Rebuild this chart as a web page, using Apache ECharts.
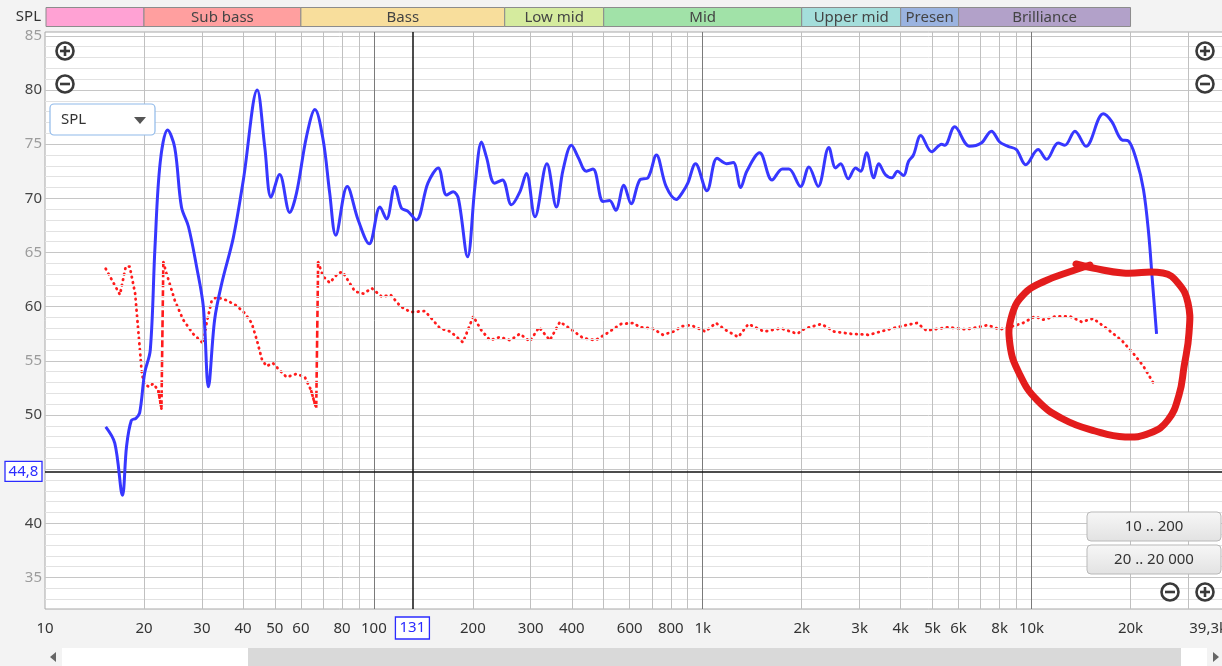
<!DOCTYPE html>
<html>
<head>
<meta charset="utf-8">
<script src="https://cdn.jsdelivr.net/npm/echarts@6/dist/echarts.min.js"></script>
<style>
html,body{margin:0;padding:0;background:#f3f3f3;}
#c{width:1222px;height:666px;}
</style>
</head>
<body>
<div id="c"></div>
<script>
// ---------- data ----------
const blueFreq = [15.3,16.3,17.2,17.7,18.3,18.9,19.4,20.1,20.9,21.6,22.4,23.6,24.8,26.0,27.3,28.9,30.3,31.4,32.8,34.5,37.4,40.1,44.2,46.6,48.7,51.7,55.5,58.2,62.4,66.2,70.1,73.4,76.6,83.0,89.6,96.8,104.4,109.3,115.8,121.3,127,134.6,146,156.9,166.4,174.3,180.7,192.8,203,212.6,220,233,246,262,278,291,309,336,359,376,399,418,443,464,498,521,544,576,606,644,682,723,774,831,870,901,951,1030,1106,1181,1239,1305,1362,1490,1625,1747,1829,1984,2104,2244,2418,2537,2627,2771,2917,3021,3150,3313,3429,3590,3760,3914,4081,4225,4374,4606,4970,5330,5450,5840,6480,7030,7550,8000,8480,8990,9600,10470,11110,12050,12630,13550,14640,16520,17520,18790,19690,20860,21900,22700,23250,24000];
const blueDb = [48.9,47.4,42.6,47.1,49.5,49.7,50.2,53.9,56,65.5,73.3,76.3,74.7,69.2,67.4,63.7,60,52.6,58.8,62.2,66.4,71.7,80,74.7,70.1,72.2,68.7,70.5,75.7,78.2,75.4,70.5,66.6,71.1,68,65.8,69.2,68.1,71.1,69.1,68.8,68,71.4,72.8,70.3,70.6,70,64.6,71.1,75.2,73.8,71.4,71.7,69.4,70.6,72.3,68.3,73.2,69.2,72.6,74.9,73.8,72.5,72.7,69.7,69.8,68.9,71.2,69.5,71.7,71.9,74,71.1,69.9,70.6,71.4,73.2,70.7,73.7,73.2,73.3,71,72.5,74.2,71.7,72.7,72.7,71.1,72.9,71.1,74.7,72.8,73.2,71.8,72.8,72.5,74.2,71.9,73.2,72.2,71.9,72.5,72.1,73.4,74,75.8,74.3,75,74.9,76.6,74.8,75.1,76.2,75.2,74.8,74.5,73.1,74.5,73.6,75.1,74.9,76.2,74.8,77.8,77.1,75.4,75.3,73.5,70.8,66.8,62.8,57.5];

const redFreq = [15.3,16.9,17.6,18.1,18.8,19.4,19.7,20.1,20.8,21.3,22.1,22.6,22.9,23.4,24.8,26.3,28.2,30.3,31,32.1,33.2,35.6,38.2,40.5,42.5,44.1,45.7,47.2,49.3,51.8,54.3,58.2,61.7,64.4,66.8,67.7,70.1,73.4,77.9,80.4,87.6,92.9,98.6,105.9,112.4,120.7,129.6,143,159,171,186.7,200.5,212.6,225.6,242,260,278,298,318,343,368,394,433,472,509,564,616,644,703,757,815,867,922,1019,1097,1181,1283,1377,1540,1729,1939,2050,2296,2510,2820,3200,3470,3780,4160,4490,4790,5580,6340,7370,8000,8600,9420,10240,10850,11800,13090,14200,15400,16910,18790,20380,21900,23530];
const redDb = [63.5,61.1,63.7,63.7,61.2,56.3,53.8,52.8,52.6,52.9,52.3,50.6,64.1,63.1,60.6,58.8,57.5,56.6,58.5,60.5,60.9,60.6,60.1,59.4,58.5,56.9,55.1,54.5,54.8,54.1,53.5,53.8,53.5,52.3,50.6,64.1,62.8,62.2,63.1,63.2,61.4,61.2,61.7,60.9,61.1,60,59.5,59.6,58,57.7,56.7,59.1,57.8,56.9,57.2,56.9,57.5,56.8,58.1,56.9,58.6,58,57.1,56.9,57.5,58.4,58.5,58.1,58,57.4,57.7,58.2,58.3,57.7,58.5,57.8,57.2,58.4,57.7,58,57.5,58,58.4,57.7,57.5,57.4,57.7,58,58.3,58.5,57.8,58.1,57.9,58.3,57.9,58.1,58.5,59.1,58.8,59.1,59.1,58.6,58.9,58,56.9,55.7,54.5,52.9];
const redJumpAfter = [11, 34]; // index after which the red trace jumps (drawn dashed)

const xTickLabels = [10,20,30,40,50,60,80,100,200,300,400,600,800,1000,2000,3000,4000,5000,6000,8000,10000,20000,39300];
const yTickLabels = [35,40,50,55,60,65,70,75,80,85];

const bandEdges = [10,20,60,250,500,2000,4000,6000,20000];
const bandNames = ['', 'Sub bass', 'Bass', 'Low mid', 'Mid', 'Upper mid', 'Presen', 'Brilliance'];
const bandColors = ['#ffa2d4','#ff9f9f','#f8de9c','#d5eb9e','#a1e2a8','#a4dedb','#9ab3e0','#b2a1c9'];

const cursorFreq = 131;
const cursorDb = 44.8;

// ---------- build ----------
const majorV = [100,1000,10000];
const minorV = [];
[10,100,1000,10000].forEach(d => { for (let k = 1; k <= 9; k++) { const v = d*k; if (v > 10 && v < 39300 && majorV.indexOf(v) < 0) minorV.push(v); } });
const hMinor = [], hMajor = [];
for (let v = 33; v <= 85; v++) { (v % 5 === 0 ? hMajor : hMinor).push(v); }

const blueData = blueFreq.map((f,i) => [f, blueDb[i]]);
const redDotted = [];
const redDashed = [];
redFreq.forEach((f,i) => {
  redDotted.push([f, redDb[i]]);
  if (redJumpAfter.indexOf(i) >= 0) {
    redDotted.push([f, null]);
    redDashed.push([redFreq[i-1], redDb[i-1]], [f, redDb[i]], [redFreq[i+1], redDb[i+1]], [redFreq[i+1], null]);
  }
});

const gridLine = (arr, axis, color, w) => arr.map(v => ({ [axis]: v, lineStyle: { color: color, width: w, type: 'solid' } }));

const chart = echarts.init(document.getElementById('c'), null, { renderer: 'canvas' });
const FONT = '"Noto Sans", "DejaVu Sans", sans-serif';

chart.setOption({
  animation: false,
  backgroundColor: '#f3f3f3',
  grid: { left: 45, width: 1182, top: 32, bottom: 57, outerBoundsMode: 'none', containLabel: false, show: true, backgroundColor: '#ffffff', borderColor: '#a8a8a8', borderWidth: 1 },
  xAxis: {
    type: 'log', logBase: 10, min: 10, max: 39300,
    axisLine: { show: false }, axisTick: { show: false }, splitLine: { show: false }, minorSplitLine: { show: false },
    axisLabel: {
      customValues: xTickLabels, margin: 12, color: '#333', fontSize: 15, fontFamily: FONT,
      alignMaxLabel: 'right', showMaxLabel: true, showMinLabel: true, hideOverlap: false,
      formatter: v => v === 39300 ? '39,3k' : (v >= 1000 ? (v/1000) + 'k' : String(v))
    }
  },
  yAxis: {
    type: 'value', min: 32.1, max: 85.35,
    axisLine: { show: false }, axisTick: { show: false }, splitLine: { show: false },
    axisLabel: {
      customValues: yTickLabels, margin: 3, fontFamily: FONT, fontSize: 15,
      formatter: v => (v % 10 === 0 ? '{d|' + v + '}' : '{l|' + v + '}'),
      rich: { d: { color: '#444', fontSize: 15, fontFamily: FONT }, l: { color: '#9c9c9c', fontSize: 15, fontFamily: FONT } }
    }
  },
  series: [
    {
      type: 'line', data: [], z: 1, silent: true,
      markLine: {
        silent: true, symbol: ['none','none'], label: { show: false }, animation: false,
        emphasis: { disabled: true },
        data: [].concat(
          gridLine(hMinor, 'yAxis', '#e2e2e2', 1),
          gridLine(hMajor, 'yAxis', '#c6c6c6', 1),
          gridLine(minorV, 'xAxis', '#c0c0c0', 1),
          gridLine(majorV, 'xAxis', '#7a7a7a', 1)
        )
      }
    },
    {
      type: 'line', data: [], z: 2, silent: true,
      markLine: {
        silent: true, symbol: ['none','none'], label: { show: false }, animation: false,
        emphasis: { disabled: true },
        data: [
          { xAxis: cursorFreq, lineStyle: { color: '#111', width: 1.5, type: 'solid' } },
          { yAxis: cursorDb, lineStyle: { color: '#111', width: 1.5, type: 'solid' } }
        ]
      }
    },
    {
      name: 'red', type: 'line', data: redDotted, z: 4, showSymbol: false, connectNulls: false,
      lineStyle: { color: '#ff1c1c', width: 2.8, type: [0.6, 5], cap: 'round' }
    },
    {
      name: 'redJump', type: 'line', data: redDashed, z: 4, showSymbol: false, connectNulls: false,
      lineStyle: { color: '#ff1c1c', width: 2.6, type: [7, 3] }
    },
    {
      name: 'blue', type: 'line', data: blueData, z: 5, showSymbol: false, smooth: 0.35,
      lineStyle: { color: '#3737ff', width: 3 }
    }
  ]
});

// ---------- overlay (UI chrome placed via the chart scales) ----------
function zoomIcon(cx, cy, plus) {
  const els = [
    { type: 'circle', shape: { cx: cx, cy: cy, r: 8.5 }, style: { fill: '#fff', stroke: '#3a3a3a', lineWidth: 2.6 }, z: 50 },
    { type: 'rect', shape: { x: cx - 5, y: cy - 1.3, width: 10, height: 2.6 }, style: { fill: '#3a3a3a' }, z: 51 }
  ];
  if (plus) els.push({ type: 'rect', shape: { x: cx - 1.3, y: cy - 5, width: 2.6, height: 10 }, style: { fill: '#3a3a3a' }, z: 51 });
  return els;
}
function button(x, y, w, h, text) {
  return [
    { type: 'rect', shape: { x: x, y: y, width: w, height: h, r: 4 },
      style: { fill: new echarts.graphic.LinearGradient(0,0,0,1,[{offset:0,color:'#f7f7f7'},{offset:1,color:'#e2e2e2'}]), stroke: '#b9b9b9', lineWidth: 1 }, z: 50 },
    { type: 'text', x: x + w/2, y: y + h/2, style: { text: text, fill: '#333', font: '15px ' + FONT, align: 'center', verticalAlign: 'middle' }, z: 51 }
  ];
}

function overlay() {
  const g = [];
  const px = f => chart.convertToPixel({ gridIndex: 0 }, [f, 60])[0];
  const py = v => chart.convertToPixel({ gridIndex: 0 }, [100, v])[1];
  // frequency band strip
  for (let i = 0; i < bandNames.length; i++) {
    const x0 = px(bandEdges[i]) + (i === 0 ? 1 : 0), x1 = px(bandEdges[i+1]);
    g.push({ type: 'rect', shape: { x: x0, y: 7.5, width: x1 - x0, height: 19 }, style: { fill: bandColors[i], stroke: '#8c8c8c', lineWidth: 1 }, z: 40 });
    if (bandNames[i]) g.push({ type: 'text', x: (x0 + x1) / 2, y: 17.5, style: { text: bandNames[i], fill: '#444', font: '15px ' + FONT, align: 'center', verticalAlign: 'middle' }, z: 41 });
  }
  g.push({ type: 'text', x: 41, y: 17, style: { text: 'SPL', fill: '#333', font: '15px ' + FONT, align: 'right', verticalAlign: 'middle' }, z: 41 });
  // zoom icons
  g.push(...zoomIcon(65, 51, true), ...zoomIcon(65, 84, false), ...zoomIcon(1205, 51, true), ...zoomIcon(1205, 84, false), ...zoomIcon(1170, 592, false), ...zoomIcon(1205, 592, true));
  // SPL dropdown
  g.push({ type: 'rect', shape: { x: 50, y: 104, width: 105, height: 31, r: 4 }, style: { fill: '#fff', stroke: '#8fb9ea', lineWidth: 1.2 }, z: 50 });
  g.push({ type: 'text', x: 61, y: 120, style: { text: 'SPL', fill: '#333', font: '15px ' + FONT, verticalAlign: 'middle' }, z: 51 });
  g.push({ type: 'polygon', shape: { points: [[134, 117], [146, 117], [140, 124]] }, style: { fill: '#555' }, z: 51 });
  // range buttons
  g.push(...button(1087, 512, 134, 29, '10 .. 200'), ...button(1087, 545, 134, 29, '20 .. 20 000'));
  // cursor value boxes
  const cy = py(cursorDb);
  g.push({ type: 'rect', shape: { x: 5, y: cy - 10, width: 37, height: 20 }, style: { fill: '#fff', stroke: '#2b2bff', lineWidth: 1.3 }, z: 50 });
  g.push({ type: 'text', x: 23.5, y: cy, style: { text: '44,8', fill: '#2b2bff', font: '15px ' + FONT, align: 'center', verticalAlign: 'middle' }, z: 51 });
  const cx = px(cursorFreq);
  g.push({ type: 'rect', shape: { x: cx - 17, y: 617, width: 34, height: 22 }, style: { fill: '#fff', stroke: '#2b2bff', lineWidth: 1.3 }, z: 50 });
  g.push({ type: 'text', x: cx, y: 628, style: { text: '131', fill: '#2b2bff', font: '15px ' + FONT, align: 'center', verticalAlign: 'middle' }, z: 51 });
  // scrollbar
  g.push({ type: 'rect', shape: { x: 62, y: 648, width: 1145, height: 18 }, style: { fill: '#ffffff' }, z: 50 });
  g.push({ type: 'rect', shape: { x: 248, y: 648, width: 933, height: 18 }, style: { fill: '#d9d9d9' }, z: 51 });
  g.push({ type: 'polygon', shape: { points: [[56, 652], [56, 662], [50, 657]] }, style: { fill: '#666' }, z: 51 });
  g.push({ type: 'polygon', shape: { points: [[1213, 652], [1213, 662], [1219, 657]] }, style: { fill: '#666' }, z: 51 });
  // hand-drawn red annotation circle
  g.push({ type: 'polyline', shape: { smooth: 0.45, points: [
    [1076, 264], [1093, 268], [1123, 273], [1163, 273], [1178, 283], [1188, 303], [1189, 333], [1184, 367], [1179, 395],
    [1168, 420], [1150, 433], [1125, 437], [1095, 431], [1063, 419], [1037, 400], [1020, 375], [1010, 345], [1012, 315],
    [1025, 293], [1045, 281], [1072, 271], [1090, 265]
  ] }, style: { stroke: '#e31c1c', lineWidth: 7, fill: null, lineCap: 'round', lineJoin: 'round' }, z: 60 });
  chart.setOption({ graphic: g });
}
overlay();
</script>
</body>
</html>
